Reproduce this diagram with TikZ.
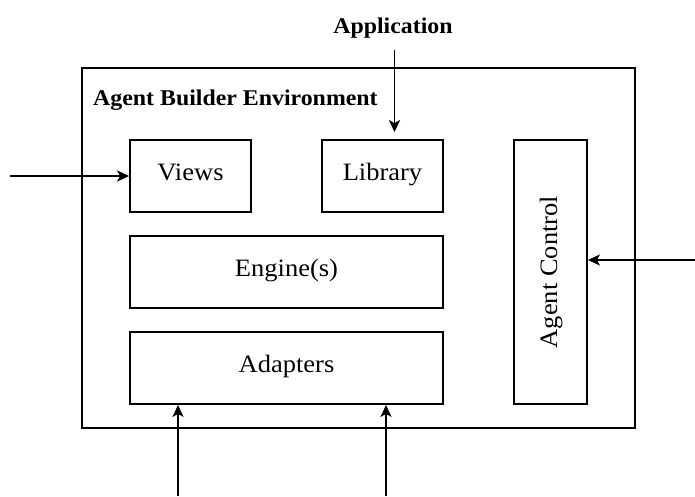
\documentclass[tikz,border=0pt]{standalone}
\usepackage{fontspec}
\setmainfont[FakeStretch=1.06]{Liberation Serif}
\usetikzlibrary{arrows.meta}
\begin{document}
\begin{tikzpicture}[x=1pt,y=-1pt,
  label text/.style={font=\fontsize{25}{30}\selectfont, text height=16.5pt, text depth=7.5pt},
  box/.style={draw, line width=1.8pt, inner sep=0pt, label text},
  heading/.style={inner sep=0pt, font=\fontsize{22.5}{27}\selectfont\bfseries},
  arr/.style={line width=1.8pt, -{Stealth[length=12pt,width=11pt,inset=3pt]}}]
  \useasboundingbox (0,0) rectangle (695,496);

  % environment frame and its title
  \node[box, minimum width=553pt, minimum height=360pt] (env) at (358.5,248) {};
  \node[heading, anchor=base west] (envtitle) at (93,105) {Agent Builder Environment};

  % components
  \node[box, minimum width=121pt, minimum height=72pt] (views) at (190.5,176) {Views};
  \node[box, minimum width=121pt, minimum height=72pt] (library) at (382.5,176) {Library};
  \node[box, minimum width=313pt, minimum height=72pt] (engine) at (286.5,272) {Engine(s)};
  \node[box, minimum width=313pt, minimum height=72pt] (adapters) at (286.5,368) {Adapters};
  \node[box, minimum width=73pt, minimum height=264pt] (control) at (550.5,272) {};
  \node[rotate=90, inner sep=0pt, label text] (controltext) at ([xshift=2pt]control.center) {Agent Control};

  % external inputs
  \node[heading, anchor=base] (app) at (393,33) {Application};
  \coordinate (appin) at (394.5,50);
  \coordinate (viewsin) at (10,176);
  \coordinate (ctrlin) at (695,260);
  \coordinate (adin1) at (178,496);
  \coordinate (adin2) at (386,496);

  \draw[arr, shorten >=7pt] (appin) -- (appin |- library.north);
  \draw[arr] (viewsin) -- (views.west);
  \draw[arr] (ctrlin) -- (ctrlin -| control.east);
  \draw[arr] (adin1) -- (adin1 |- adapters.south);
  \draw[arr] (adin2) -- (adin2 |- adapters.south);
\end{tikzpicture}
\end{document}
